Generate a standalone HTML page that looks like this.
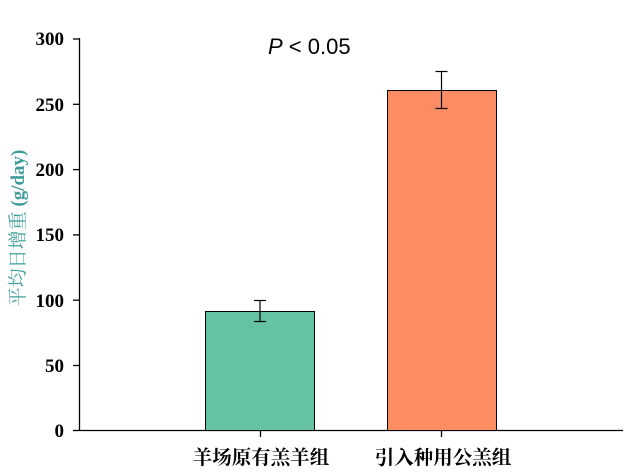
<!DOCTYPE html>
<html><head><meta charset="utf-8"><style>
html,body{margin:0;padding:0;background:#fff;}
svg{display:block;}
</style></head><body>
<svg width="626" height="474" xmlns="http://www.w3.org/2000/svg">
<g font-family="Liberation Serif, serif" font-weight="bold" font-size="19" text-anchor="end" fill="#000">
<text x="64" y="45">300</text>
<text x="64" y="111">250</text>
<text x="64" y="176">200</text>
<text x="64" y="241">150</text>
<text x="64" y="307">100</text>
<text x="64" y="372">50</text>
<text x="64" y="437">0</text>
</g>
<g stroke="#000" stroke-width="1.3" fill="none">
<line x1="79.5" y1="38" x2="79.5" y2="431"/>
<line x1="79" y1="430.5" x2="623" y2="430.5"/>
<line x1="73" y1="39" x2="79" y2="39"/>
<line x1="73" y1="104.3" x2="79" y2="104.3"/>
<line x1="73" y1="169.6" x2="79" y2="169.6"/>
<line x1="73" y1="234.9" x2="79" y2="234.9"/>
<line x1="73" y1="300.2" x2="79" y2="300.2"/>
<line x1="73" y1="365.5" x2="79" y2="365.5"/>
<line x1="73" y1="430.5" x2="79" y2="430.5"/>
<line x1="260.5" y1="431" x2="260.5" y2="437"/>
<line x1="441.5" y1="431" x2="441.5" y2="437"/>
</g>
<rect x="205.5" y="311.5" width="109" height="119" fill="#66c2a5" stroke="#000" stroke-width="1"/>
<rect x="387.5" y="90.5" width="109" height="340" fill="#fc8d62" stroke="#000" stroke-width="1"/>
<g stroke="#000" stroke-width="1.2">
<line x1="260" y1="300.5" x2="260" y2="321.5"/><line x1="254" y1="300.5" x2="266" y2="300.5"/><line x1="254" y1="321.5" x2="266" y2="321.5"/>
<line x1="441.5" y1="71.5" x2="441.5" y2="108.5"/><line x1="435.5" y1="71.5" x2="447.5" y2="71.5"/><line x1="435.5" y1="108.5" x2="447.5" y2="108.5"/>
</g>
<text x="268" y="54" font-family="Liberation Sans, sans-serif" font-size="22"><tspan font-style="italic">P</tspan> &lt; 0.05</text>
<g font-family="Liberation Serif, 'Noto Serif CJK SC', serif" font-weight="bold" font-size="19.5" text-anchor="middle" fill="#000">
<text x="261" y="464">羊场原有羔羊组</text>
<text x="443" y="464">引入种用公羔组</text>
</g>
<text transform="translate(24,228) rotate(-90)" text-anchor="middle" font-size="19" fill="#3f9e9a" font-family="Liberation Serif, 'Noto Serif CJK SC', serif">平均日增重 <tspan font-weight="bold">(g/day)</tspan></text>
</svg>
</body></html>
